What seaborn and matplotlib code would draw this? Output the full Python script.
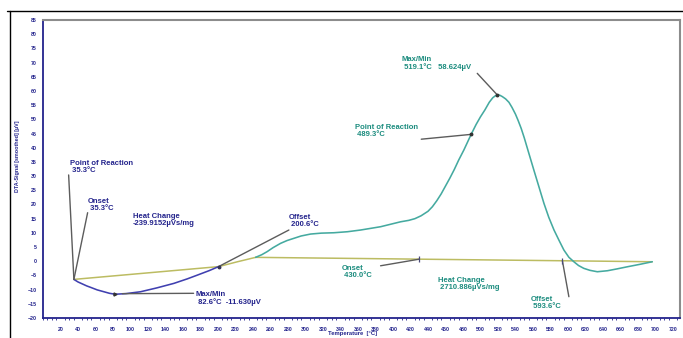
import numpy as np
import pandas as pd
import matplotlib
matplotlib.use("Agg")
import matplotlib.pyplot as plt
from matplotlib.lines import Line2D
from matplotlib.ticker import MultipleLocator
import seaborn as sns

# ---- DTA signal, split by evaluation region ----
endo_temp = [35.3, 40, 45, 50, 54.4, 62, 69.6, 76, 82.6, 95, 111.5, 130, 149.6, 165, 176.3, 190, 200.6]
endo_signal = [-6.4, -7.3, -8.0, -8.7, -9.2, -10.1, -10.75, -11.3, -11.63, -11.4, -10.75, -9.4, -7.8, -6.2, -4.9, -3.3, -1.9]

bridge_temp = [200.6, 222, 243]
bridge_signal = [-1.9, -0.2, 1.37]

exo_temp = [243, 250, 256, 263, 271.5, 279, 286.7, 295, 305.8, 318, 332.5, 348, 363, 385.8,
            408.7, 418, 425, 432, 440, 445, 450, 455, 460, 465, 470, 475, 481, 489.3, 495,
            500, 505, 510, 514, 517, 519.1, 522, 525, 528.7, 532.5, 536, 540, 543, 546.5,
            550, 555, 561, 567, 572.5, 578, 584, 590, 595.3, 601, 606.7, 612, 618, 625,
            633.5, 645, 656, 668, 682, 696.3]
exo_signal = [1.37, 2.3, 3.35, 4.8, 6.3, 7.3, 8.07, 8.9, 9.58, 9.9, 10.04, 10.4, 11.0, 12.16,
              13.9, 14.4, 15.0, 16.0, 17.6, 19.2, 21.3, 23.7, 26.5, 29.3, 32.3, 35.6, 39.2,
              44.7, 48.2, 50.9, 53.3, 56.0, 57.6, 58.3, 58.624, 58.5, 58.0, 57.2, 56.0, 54.2,
              51.8, 49.6, 46.8, 43.5, 38.3, 32.1, 26.0, 20.4, 15.5, 11.0, 7.2, 3.95, 1.4,
              -0.18, -1.5, -2.5, -3.2, -3.7, -3.35, -2.7, -1.94, -1.1, -0.18]

# ---- baselines ----
base1_temp = [35.3, 200.6]
base1_signal = [-6.4, -1.9]
base2_temp = [243, 696.3]
base2_signal = [1.37, -0.18]

# ---- evaluation results ----
endo_events = ["Point of Reaction\n 35.3°C", "Onset\n 35.3°C", "Max/Min\n 82.6°C  -11.630µV", "Offset\n 200.6°C"]
endo_event_temp = [35.3, 35.3, 82.6, 200.6]
endo_event_signal = [-6.4, -6.4, -11.63, -1.9]
endo_heat = "Heat Change\n-239.9152µVs/mg"

exo_events = ["Max/Min\n 519.1°C   58.624µV", "Point of Reaction\n 489.3°C", "Onset\n 430.0°C", "Offset\n 593.6°C"]
exo_event_temp = [519.1, 489.3, 430.0, 593.6]
exo_event_signal = [58.624, 44.7, 0.73, 0.17]
exo_heat = "Heat Change\n 2710.886µVs/mg"

x_ticks = list(range(20, 721, 20))
y_ticks = list(range(-20, 86, 5))

# ---- style ----
NAVY_TXT = "#23238c"
TEAL_TXT = "#1b8c7e"
NAVY_LINE = "#4040b0"
TEAL_LINE = "#45aaa0"
OLIVE = "#bcbc62"
LEADER = "#5c5c5c"

sns.set_theme(style="white")
plt.rcParams["font.family"] = ["Liberation Sans", "DejaVu Sans"]
plt.rcParams["font.weight"] = "bold"

fig = plt.figure(figsize=(6.83, 3.38), dpi=100)
ax = fig.add_axes([43 / 683, 20 / 338, 637 / 683, 298 / 338])

# baselines under the curve
sns.lineplot(x=base1_temp, y=base1_signal, ax=ax, color=OLIVE, lw=1.1, sort=False)
sns.lineplot(x=base2_temp, y=base2_signal, ax=ax, color=OLIVE, lw=1.1, sort=False)

# curve segments
sns.lineplot(x=endo_temp, y=endo_signal, ax=ax, color=NAVY_LINE, lw=1.15, sort=False)
sns.lineplot(x=bridge_temp, y=bridge_signal, ax=ax, color=OLIVE, lw=1.1, sort=False)
sns.lineplot(x=exo_temp, y=exo_signal, ax=ax, color=TEAL_LINE, lw=1.15, sort=False)

# label anchors (upper-left of each text block) and leader ends
endo_text_pos = [(30.4, 35.7), (51.0, 22.3), (174.4, -10.6), (280.7, 16.6)]
endo_leader_end = [(29.3, 30.4), (51.0, 17.1), (172.1, -11.3), (281.0, 11.0)]
exo_text_pos = [(409.8, 72.2), (356.1, 48.2), (341.3, -1.3), (557.3, -12.3)]
exo_leader_end = [(496.3, 66.2), (432.3, 43.0), (385.8, -1.6), (601.0, -12.5)]

txt_kw = dict(fontsize=5.5, fontweight="bold", ha="left", va="top", linespacing=0.95)

for label, t, s, tp, le in zip(endo_events, endo_event_temp, endo_event_signal,
                               endo_text_pos, endo_leader_end):
    start = (t + 8, s + 0.2) if label.startswith("Max") else (t, s)
    ax.plot([start[0], le[0]], [start[1], le[1]], color=LEADER, lw=1.0)
    ax.text(tp[0], tp[1], label, color=NAVY_TXT, **txt_kw)

for label, t, s, tp, le in zip(exo_events, exo_event_temp, exo_event_signal,
                               exo_text_pos, exo_leader_end):
    ax.plot([t, le[0]], [s, le[1]], color=LEADER, lw=1.0)
    ax.text(tp[0], tp[1], label, color=TEAL_TXT, **txt_kw)

ax.text(102.4, 17.0, endo_heat, color=NAVY_TXT, **txt_kw)
ax.text(451.0, -5.6, exo_heat, color=TEAL_TXT, **txt_kw)

# event markers
ax.plot(endo_event_temp[2], endo_event_signal[2], marker=">", ms=2.2, color="#333333")
ax.plot(endo_event_temp[3], endo_event_signal[3], marker="o", ms=1.8, color="#333355")
ax.plot(exo_event_temp[:2], exo_event_signal[:2], "o", ms=1.8, color="#333333")
ax.plot(exo_event_temp[2:], exo_event_signal[2:], "|", ms=4, mew=0.9, color="#4a4a7a")

# axes
ax.set_xlim(0, 728)
ax.set_ylim(-20, 85)
ax.set_xticks(x_ticks)
ax.set_yticks(y_ticks)
ax.xaxis.set_minor_locator(MultipleLocator(5))
ax.tick_params(axis="both", which="major", direction="out", length=3, width=0.9,
               color=NAVY_TXT, labelcolor=NAVY_TXT, labelsize=3.8, pad=1.5)
ax.tick_params(axis="x", which="minor", direction="out", length=1.6, width=0.6,
               color=NAVY_TXT, bottom=True)
ax.tick_params(axis="x", which="major", pad=3.5)
for lab in ax.get_xticklabels() + ax.get_yticklabels():
    lab.set_fontweight("bold")

for side in ("left", "bottom"):
    ax.spines[side].set_color(NAVY_TXT)
    ax.spines[side].set_linewidth(1.3)
for side in ("top", "right"):
    ax.spines[side].set_color("#8c8c8c")
    ax.spines[side].set_linewidth(1.5)

ax.set_xlabel("")
ax.set_ylabel("")
fig.text(18 / 683, 1 - 156 / 338, "DTA-Signal [smoothed] [µV]", rotation=90,
         ha="center", va="center", fontsize=3.9, fontweight="bold", color=NAVY_TXT)
fig.text(353 / 683, 1 - 333 / 338, "Temperature  [°C]", ha="center", va="center",
         fontsize=4.2, fontweight="bold", color=NAVY_TXT)

# outer frame
fig.add_artist(Line2D([7 / 683, 1], [1 - 11 / 338, 1 - 11 / 338],
                      transform=fig.transFigure, color="black", lw=1.0))
fig.add_artist(Line2D([9.5 / 683, 9.5 / 683], [0, 1 - 11 / 338],
                      transform=fig.transFigure, color="black", lw=1.0))

fig.savefig("out.png", dpi=100)
